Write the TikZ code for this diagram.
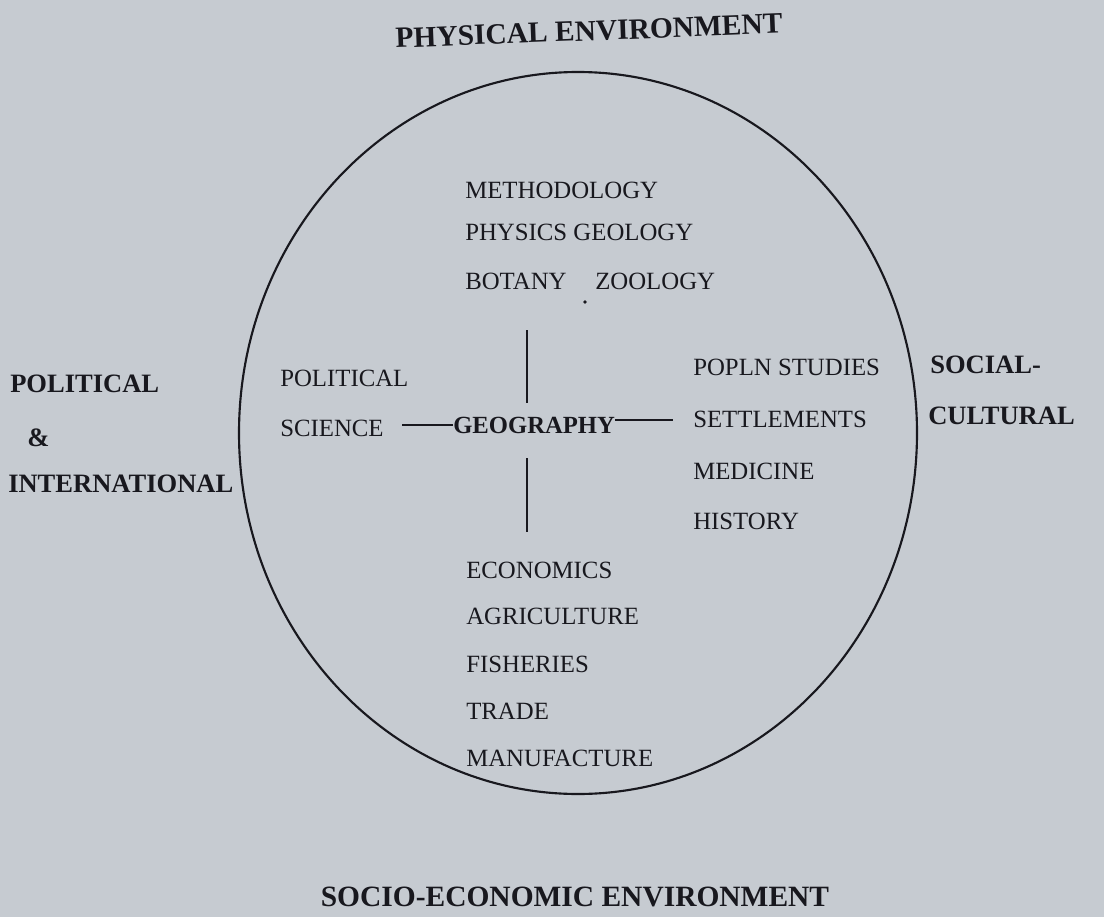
\documentclass[tikz,border=0pt]{standalone}
\usepackage{fontspec}
\setmainfont{Liberation Serif}
\definecolor{paper}{RGB}{198,203,209}
\definecolor{ink}{RGB}{24,24,30}
\tikzset{
  reg/.style={inner sep=0pt, anchor=base west, text=ink, font=\fontsize{18.6pt}{20pt}\selectfont},
  side/.style={inner sep=0pt, anchor=base west, text=ink, font=\fontsize{19.9pt}{22pt}\selectfont\bfseries},
  head/.style={inner sep=0pt, text=ink, font=\fontsize{22.1pt}{24pt}\selectfont\bfseries},
  link/.style={draw=ink, line width=1.5pt},
  ring/.style={draw=ink, line width=1.6pt}
}
\begin{document}
\begin{tikzpicture}[x=0.75pt,y=-0.75pt]
\fill[paper] (0,0) rectangle (1104,917);
\useasboundingbox (0,0) rectangle (1104,917);

% outer circle
\draw[ring] (578,433) ellipse [x radius=254.25pt, y radius=270.75pt];

% headings
\node[head, rotate=2.2] (phys) at (589,31) {PHYSICAL ENVIRONMENT};
\node[head] (socio) at (575,897) {SOCIO-ECONOMIC ENVIRONMENT};

% left outer
\node[side] (polout) at (10,392) {POLITICAL};
\node[side] (amp) at (27,446) {\&};
\node[side] (intl) at (8,492) {INTERNATIONAL};

% right outer
\node[side] (soc) at (930,373) {SOCIAL-};
\node[side] (cult) at (928,424) {CULTURAL};

% top block
\node[reg] (meth) at (465,198) {METHODOLOGY};
\node[reg] (physgeo) at (465,240) {PHYSICS GEOLOGY};
\node[reg] (bot) at (465,289) {BOTANY};
\node[reg] (zoo) at (595,289) {ZOOLOGY};
\fill[ink] (585,302) circle (1.4pt);

% left inner
\node[reg] (polin) at (280,386) {POLITICAL};
\node[reg] (sci) at (280,436) {SCIENCE};

% centre
\node[reg, font=\fontsize{18.5pt}{20pt}\selectfont\bfseries] (geo) at (453,433) {GEOGRAPHY};

% right inner
\node[reg] (pop) at (693,375) {POPLN STUDIES};
\node[reg] (set) at (693,427) {SETTLEMENTS};
\node[reg] (med) at (693,479) {MEDICINE};
\node[reg] (hist) at (693,529) {HISTORY};

% bottom block
\node[reg] (eco) at (466,578) {ECONOMICS};
\node[reg] (agr) at (466,624) {AGRICULTURE};
\node[reg] (fish) at (466,672) {FISHERIES};
\node[reg] (trade) at (466,719) {TRADE};
\node[reg] (manu) at (466,766) {MANUFACTURE};

% connectors
\coordinate (lend) at (402,425);
\coordinate (rend) at (673,420);
\coordinate (vt1) at (527,330);
\coordinate (vt2) at (527,403);
\coordinate (vb1) at (527,458);
\coordinate (vb2) at (527,532);
\draw[link] (geo.west |- lend) -- (lend);
\draw[link] (geo.east |- rend) -- (rend);
\draw[link] (vt1) -- (vt2);
\draw[link] (vb1) -- (vb2);
\end{tikzpicture}
\end{document}
